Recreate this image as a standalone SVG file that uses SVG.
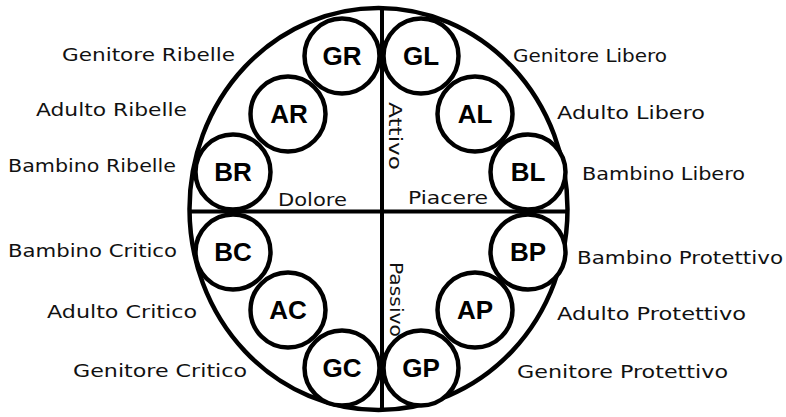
<svg xmlns="http://www.w3.org/2000/svg" width="786" height="417" viewBox="0 0 786 417">
<style>
.frame{fill:none;stroke:#000;stroke-width:4.5}
.axis{stroke:#000;stroke-width:4}
.node circle{fill:#fff;stroke:#000;stroke-width:4.5}
.node text{font-family:"Liberation Sans",Arial,sans-serif;font-weight:bold;font-size:26px;text-anchor:middle;fill:#000}
.lbl{font-family:"DejaVu Sans","Liberation Sans",sans-serif;font-size:18px;fill:#111}
.in{font-family:"DejaVu Sans","Liberation Sans",sans-serif;font-size:17px;fill:#111}
</style>
<rect width="786" height="417" fill="#fff"/>
<g id="frame">
<ellipse class="frame" cx="378.5" cy="209" rx="189" ry="201"/>
</g>
<g id="connectors">
<line class="axis" x1="382" y1="8" x2="382" y2="410"/>
<line class="axis" x1="190" y1="211.5" x2="567" y2="211.5"/>
</g>
<g id="GR" class="node"><circle cx="342" cy="56" r="37.5"/><text x="342" y="65">GR</text></g>
<g id="GL" class="node"><circle cx="421" cy="56" r="37.5"/><text x="421" y="65">GL</text></g>
<g id="AR" class="node"><circle cx="288" cy="114" r="37.5"/><text x="289" y="123">AR</text></g>
<g id="AL" class="node"><circle cx="475" cy="114" r="37.5"/><text x="475" y="123">AL</text></g>
<g id="BR" class="node"><circle cx="233" cy="172" r="37.5"/><text x="233" y="181">BR</text></g>
<g id="BL" class="node"><circle cx="528" cy="172" r="37.5"/><text x="528" y="181">BL</text></g>
<g id="BC" class="node"><circle cx="233" cy="252" r="37.5"/><text x="233" y="261">BC</text></g>
<g id="BP" class="node"><circle cx="528" cy="252" r="37.5"/><text x="528" y="261">BP</text></g>
<g id="AC" class="node"><circle cx="288" cy="310" r="37.5"/><text x="288" y="319">AC</text></g>
<g id="AP" class="node"><circle cx="475" cy="310" r="37.5"/><text x="475" y="319">AP</text></g>
<g id="GC" class="node"><circle cx="342" cy="368" r="37.5"/><text x="342" y="377">GC</text></g>
<g id="GP" class="node"><circle cx="421" cy="368" r="37.5"/><text x="421" y="377">GP</text></g>
<g id="labels">
<text class="lbl" x="62" y="61" textLength="173" lengthAdjust="spacingAndGlyphs">Genitore Ribelle</text>
<text class="lbl" x="36" y="116" textLength="151" lengthAdjust="spacingAndGlyphs">Adulto Ribelle</text>
<text class="lbl" x="8" y="172" textLength="168" lengthAdjust="spacingAndGlyphs">Bambino Ribelle</text>
<text class="lbl" x="8" y="257" textLength="169" lengthAdjust="spacingAndGlyphs">Bambino Critico</text>
<text class="lbl" x="47" y="318" textLength="150" lengthAdjust="spacingAndGlyphs">Adulto Critico</text>
<text class="lbl" x="73" y="377" textLength="174" lengthAdjust="spacingAndGlyphs">Genitore Critico</text>
<text class="lbl" x="513" y="62" textLength="154" lengthAdjust="spacingAndGlyphs">Genitore Libero</text>
<text class="lbl" x="557" y="119" textLength="148" lengthAdjust="spacingAndGlyphs">Adulto Libero</text>
<text class="lbl" x="582" y="180" textLength="163" lengthAdjust="spacingAndGlyphs">Bambino Libero</text>
<text class="lbl" x="577" y="264" textLength="206" lengthAdjust="spacingAndGlyphs">Bambino Protettivo</text>
<text class="lbl" x="557" y="320" textLength="189" lengthAdjust="spacingAndGlyphs">Adulto Protettivo</text>
<text class="lbl" x="517" y="378" textLength="211" lengthAdjust="spacingAndGlyphs">Genitore Protettivo</text>
<text class="in" x="278" y="206" textLength="69" lengthAdjust="spacingAndGlyphs">Dolore</text>
<text class="in" x="408" y="204" textLength="80" lengthAdjust="spacingAndGlyphs">Piacere</text>
<text class="in" transform="translate(389,102) rotate(90)" textLength="68" lengthAdjust="spacingAndGlyphs">Attivo</text>
<text class="in" transform="translate(390,262) rotate(90)" textLength="75" lengthAdjust="spacingAndGlyphs">Passivo</text>
</g>
</svg>
